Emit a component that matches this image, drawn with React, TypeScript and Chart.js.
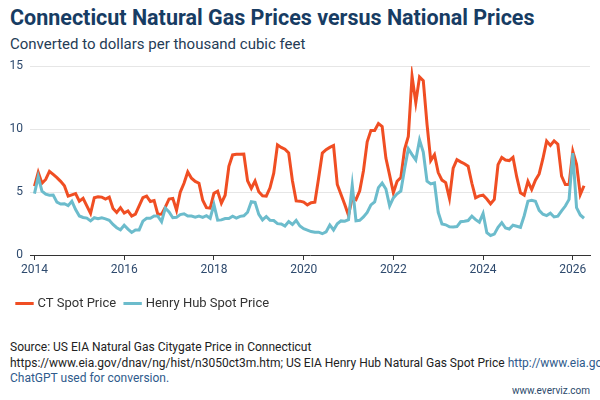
import React, { useEffect, useRef } from 'react';
import Chart from 'chart.js/auto';

// monthly values, Jan 2014 .. Apr 2026, dollars per thousand cubic feet
const startYear = 2014;
const yearTicks = [2014, 2016, 2018, 2020, 2022, 2024, 2026];
const priceTicks = [0, 5, 10, 15];

const ctSpot = [
    // 2014
    5.47, 6.57, 5.7, 6.0, 6.65, 6.4, 6.15, 5.85, 5.5, 4.68, 4.78, 4.88,
    // 2015
    4.28, 4.5, 3.9, 3.3, 4.55, 4.62, 4.6, 4.45, 4.6, 3.7, 3.38, 3.76,
    // 2016
    3.33, 3.5, 3.1, 3.25, 3.9, 4.55, 4.68, 4.25, 4.33, 3.23, 3.25, 3.8,
    // 2017
    4.45, 4.5, 3.55, 5.0, 5.7, 6.6, 6.1, 5.85, 5.7, 4.35, 3.76, 3.72,
    // 2018
    4.9, 5.07, 4.12, 4.75, 7.05, 7.95, 8.0, 8.0, 8.02, 5.9, 5.3, 5.88,
    // 2019
    5.02, 4.7, 4.68, 5.34, 6.5, 8.75, 8.55, 8.4, 8.1, 5.9, 4.3, 4.28,
    // 2020
    4.2, 3.98, 4.15, 4.2, 6.1, 8.1, 8.37, 8.55, 8.7, 5.6, 4.8, 4.02,
    // 2021
    3.15, 4.55, 4.4, 5.1, 6.7, 9.0, 9.9, 9.9, 10.45, 10.2, 7.7, 6.35,
    // 2022
    4.95, 5.86, 6.15, 8.4, 9.42, 14.2, 12.1, 14.15, 13.85, 10.4, 7.5, 7.97,
    // 2023
    6.55, 5.95, 5.75, 4.5, 6.9, 7.57, 7.4, 7.25, 7.05, 5.7, 4.55, 4.7,
    // 2024
    4.75, 4.45, 4.07, 4.42, 7.18, 7.75, 7.55, 7.5, 7.76, 6.2, 4.94, 4.76,
    // 2025
    5.85, 5.2, 5.95, 6.44, 7.65, 9.05, 8.7, 9.07, 8.8, 6.26, 5.6, 5.6,
    // 2026
    8.23, 7.2, 4.8, 5.5,
];

const henryHub = [
    // 2014
    4.88, 6.22, 5.08, 4.83, 4.75, 4.76, 4.2, 4.05, 4.07, 3.92, 4.27, 3.61,
    // 2015
    3.1, 2.98, 2.93, 2.71, 2.96, 2.88, 2.95, 2.87, 2.76, 2.43, 2.17, 2.0,
    // 2016
    2.36, 2.06, 1.79, 1.99, 1.99, 2.69, 2.92, 2.92, 3.1, 3.09, 2.64, 3.72,
    // 2017
    3.42, 2.96, 2.99, 3.21, 3.27, 3.09, 3.09, 3.01, 3.09, 2.99, 3.12, 2.92,
    // 2018
    4.01, 2.77, 2.79, 2.9, 2.9, 3.08, 2.93, 3.07, 3.11, 3.4, 4.24, 4.19,
    // 2019
    3.23, 2.79, 3.06, 2.75, 2.74, 2.49, 2.46, 2.3, 2.65, 2.42, 2.75, 2.3,
    // 2020
    2.09, 1.98, 1.86, 1.8, 1.81, 1.69, 1.84, 2.39, 1.99, 2.48, 2.71, 2.69,
    // 2021
    2.81, 5.55, 2.72, 2.76, 3.02, 3.38, 3.98, 4.22, 5.35, 5.71, 5.24, 3.9,
    // 2022
    4.54, 4.86, 5.08, 6.84, 8.44, 7.98, 7.55, 9.14, 8.17, 5.87, 5.65, 5.73,
    // 2023
    3.39, 2.47, 2.4, 2.24, 2.23, 2.26, 2.64, 2.68, 2.74, 3.09, 2.81, 2.61,
    // 2024
    3.3, 1.78, 1.55, 1.66, 2.2, 2.57, 2.14, 2.06, 2.36, 2.28, 2.2, 3.12,
    // 2025
    4.28, 4.35, 4.27, 3.55, 3.24, 3.13, 3.32, 3.02, 3.08, 3.5, 3.89, 4.42,
    // 2026
    8.1, 3.76, 3.18, 2.92,
];

const toPoints = (values: number[]) =>
    values.map((y, i) => ({ x: startYear + i / 12, y }));

const FONT = 'Roboto, "Open Sans", sans-serif';
const NAVY = '#173c63';

const App: React.FC = () => {
    const canvasRef = useRef<HTMLCanvasElement>(null);

    useEffect(() => {
        if (!canvasRef.current) return;
        const ctx = canvasRef.current.getContext('2d');
        if (!ctx) return;

        const chart = new Chart(ctx, {
            type: 'line',
            data: {
                datasets: [
                    {
                        label: 'CT Spot Price',
                        data: toPoints(ctSpot),
                        borderColor: '#f04e23',
                        backgroundColor: '#f04e23',
                        borderWidth: 3,
                        pointRadius: 0,
                        tension: 0,
                        order: 1,
                    },
                    {
                        label: 'Henry Hub Spot Price',
                        data: toPoints(henryHub),
                        borderColor: '#6cbccc',
                        backgroundColor: '#6cbccc',
                        borderWidth: 3,
                        pointRadius: 0,
                        tension: 0,
                        order: 0,
                    },
                ],
            },
            options: {
                animation: false,
                responsive: false,
                layout: { padding: { top: 8, left: 8, right: 10, bottom: 0 } },
                font: { family: FONT },
                scales: {
                    x: {
                        type: 'linear',
                        min: startYear - 1.2 / 12,
                        max: 2026 + 4.6 / 12,
                        afterBuildTicks: (s: any) => {
                            s.ticks = yearTicks.map((v) => ({ value: v }));
                        },
                        afterFit: (s: any) => {
                            s.height = 32;
                        },
                        grid: {
                            display: true,
                            drawOnChartArea: false,
                            drawTicks: true,
                            tickLength: 5,
                            color: '#333333',
                        },
                        border: { display: true, color: '#333333', width: 1 },
                        ticks: {
                            color: '#2e4a6e',
                            font: { size: 12, family: FONT },
                            padding: 3,
                            maxRotation: 0,
                            autoSkip: false,
                            callback: (v: any) => String(v),
                        },
                    },
                    y: {
                        min: 0,
                        max: 15,
                        afterBuildTicks: (s: any) => {
                            s.ticks = priceTicks.map((v) => ({ value: v }));
                        },
                        afterFit: (s: any) => {
                            s.width = 22;
                        },
                        grid: { color: '#e6e6e6', drawTicks: false },
                        border: { display: false },
                        ticks: {
                            color: '#2e4a6e',
                            font: { size: 12, family: FONT },
                            padding: 7,
                        },
                    },
                },
                plugins: {
                    tooltip: { enabled: false },
                    legend: {
                        position: 'bottom',
                        align: 'start',
                        labels: {
                            usePointStyle: true,
                            pointStyle: 'line',
                            color: '#333333',
                            font: { size: 13, family: FONT },
                            padding: 10,
                            sort: (a: any, b: any) => a.datasetIndex - b.datasetIndex,
                        },
                    },
                },
            },
        });

        return () => {
            chart.destroy();
        };
    }, []);

    return (
        <div
            style={{
                position: 'fixed',
                left: 0,
                top: 0,
                width: 600,
                height: 400,
                background: '#ffffff',
                fontFamily: FONT,
                overflow: 'hidden',
            }}
        >
            <div
                style={{
                    position: 'absolute',
                    left: 10,
                    top: 7,
                    fontSize: 21.5,
                    lineHeight: '22px',
                    fontWeight: 700,
                    color: NAVY,
                    whiteSpace: 'nowrap',
                }}
            >
                Connecticut Natural Gas Prices versus National Prices
            </div>
            <div
                style={{
                    position: 'absolute',
                    left: 10,
                    top: 35,
                    fontSize: 15,
                    lineHeight: '18px',
                    color: '#253c56',
                    whiteSpace: 'nowrap',
                }}
            >
                Converted to dollars per thousand cubic feet
            </div>
            <canvas
                ref={canvasRef}
                width={600}
                height={268}
                style={{ position: 'absolute', left: 0, top: 52, width: 600, height: 268 }}
            />
            <div
                style={{
                    position: 'absolute',
                    left: 10,
                    top: 340,
                    width: 590,
                    fontSize: 12,
                    lineHeight: '15.5px',
                    color: '#222222',
                    whiteSpace: 'nowrap',
                    overflow: 'hidden',
                }}
            >
                <div>Source: US EIA Natural Gas Citygate Price in Connecticut</div>
                <div>
                    https://www.eia.gov/dnav/ng/hist/n3050ct3m.htm; US EIA Henry Hub Natural Gas Spot Price{' '}
                    <span style={{ color: '#2f5b8c' }}>http://www.eia.gov/dnav/ng/hist/rngwhhdm.htm</span>
                </div>
                <div style={{ color: '#2f5b8c' }}>ChatGPT used for conversion.</div>
            </div>
            <div
                style={{
                    position: 'absolute',
                    right: 10,
                    top: 385,
                    fontSize: 10,
                    color: '#2b4a6b',
                }}
            >
                www.everviz.com
            </div>
        </div>
    );
};

export default App;
